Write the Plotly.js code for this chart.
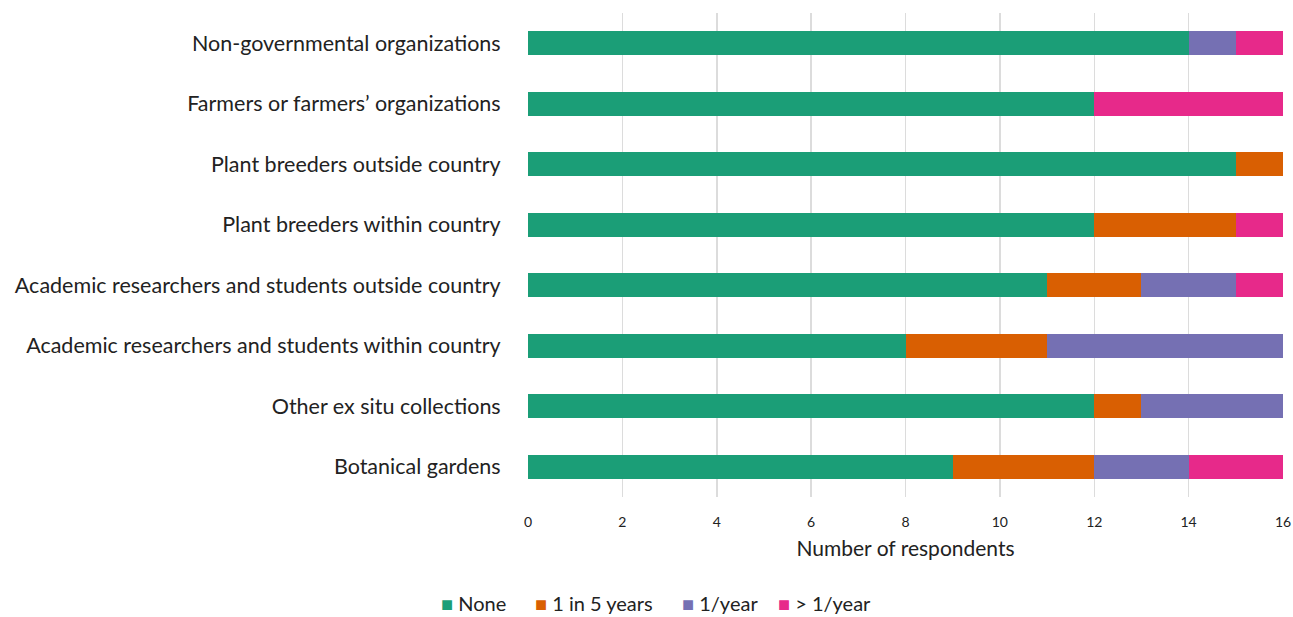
<!DOCTYPE html>
<html><head><meta charset="utf-8">
<script src="https://cdn.plot.ly/plotly-3.0.1.min.js"></script>
<style>html,body{margin:0;padding:0;background:#fff}</style>
</head><body>
<div id="chart" style="width:1293px;height:617px"></div>
<script>
const categories = [
  "Botanical gardens",
  "Other ex situ collections",
  "Academic researchers and students within country",
  "Academic researchers and students outside country",
  "Plant breeders within country",
  "Plant breeders outside country",
  "Farmers or farmers’ organizations",
  "Non-governmental organizations"
];
const seriesNames = ["None", "1 in 5 years", "1/year", "> 1/year"];
const noneVals    = [9, 12, 8, 11, 12, 15, 12, 14];
const fiveYrVals  = [3, 1, 3, 2, 3, 1, 0, 0];
const perYearVals = [2, 3, 5, 2, 0, 0, 0, 1];
const moreVals    = [2, 0, 0, 1, 1, 0, 4, 1];
const colors = ["#1b9e77", "#d95f02", "#7570b3", "#e7298a"];
const xTicks = [0, 2, 4, 6, 8, 10, 12, 14, 16];
const legendX = [-0.118, 0.006, 0.201, 0.328];

const allVals = [noneVals, fiveYrVals, perYearVals, moreVals];
const traces = allVals.map((v, i) => ({
  type: "bar", orientation: "h", name: seriesNames[i],
  y: categories, x: v, width: 0.4,
  marker: {color: colors[i]}, showlegend: false
}));

const font = "Lato, 'Open Sans', sans-serif";
const annotations = seriesNames.map((n, i) => ({
  xref: "paper", yref: "paper", x: legendX[i], y: -0.218,
  xanchor: "left", yanchor: "middle", showarrow: false,
  text: "<span style='color:" + colors[i] + "'>■</span> " + n,
  font: {size: 20, color: "#222", family: font}
}));

const layout = {
  barmode: "stack",
  width: 1293, height: 617,
  margin: {l: 528, r: 10, t: 13, b: 120, autoexpand: false},
  paper_bgcolor: "#fff", plot_bgcolor: "#fff",
  font: {family: font, color: "#222"},
  xaxis: {
    range: [0, 16], tickvals: xTicks, ticktext: xTicks.map(String),
    showgrid: true, gridcolor: "#dcdcdc", gridwidth: 1.5, zeroline: false,
    tickfont: {size: 14, color: "#222"}, ticks: "outside", ticklen: 12,
    tickcolor: "rgba(0,0,0,0)",
    title: {text: "Number of respondents", font: {size: 21, color: "#222"}, standoff: 12},
    showline: false, fixedrange: true
  },
  yaxis: {
    range: [-0.5, 7.5], tickfont: {size: 21.5, color: "#222"},
    ticks: "outside", ticklen: 22, tickcolor: "rgba(0,0,0,0)",
    showgrid: false, zeroline: false, automargin: false
  },
  showlegend: false,
  annotations: annotations
};
Plotly.newPlot("chart", traces, layout, {displayModeBar: false, staticPlot: true});
</script>
</body></html>
